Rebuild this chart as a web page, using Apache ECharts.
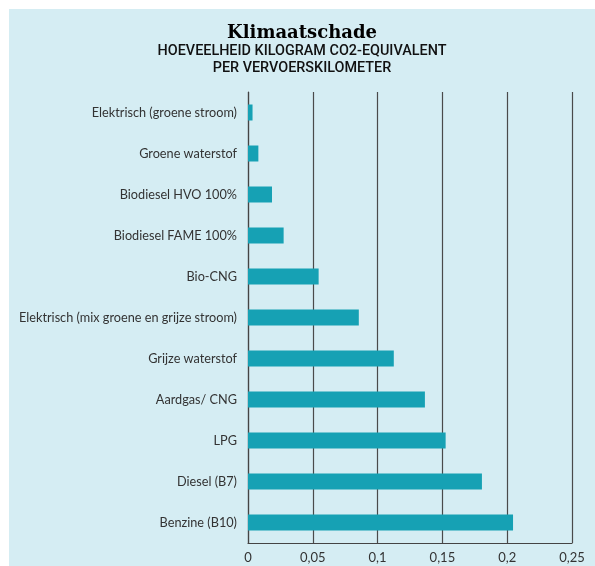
<!DOCTYPE html>
<html>
<head>
<meta charset="utf-8">
<script src="https://cdn.jsdelivr.net/npm/echarts@6/dist/echarts.min.js"></script>
<style>
  html, body { margin: 0; padding: 0; background: #fff; }
  #chart { position: absolute; left: 9px; top: 9px; width: 586px; height: 557px; }
</style>
</head>
<body>
<div id="chart"></div>
<script>
// brandstoffen, van boven naar beneden
var categories = [
    'Elektrisch (groene stroom)',
    'Groene waterstof',
    'Biodiesel HVO 100%',
    'Biodiesel FAME 100%',
    'Bio-CNG',
    'Elektrisch (mix groene en grijze stroom)',
    'Grijze waterstof',
    'Aardgas/ CNG',
    'LPG',
    'Diesel (B7)',
    'Benzine (B10)'
];
// kg CO2-equivalent per vervoerskilometer
var values = [0.0035, 0.008, 0.0185, 0.0275, 0.0545, 0.0855, 0.1125, 0.1365, 0.1525, 0.1805, 0.2045];
var ticks = [0, 0.05, 0.1, 0.15, 0.2, 0.25];

var chart = echarts.init(document.getElementById('chart'));
chart.setOption({
    backgroundColor: '#d5edf3',
    animation: false,
    title: {
        left: 'center',
        top: 10,
        itemGap: 1,
        text: 'Klimaatschade',
        subtext: 'HOEVEELHEID KILOGRAM CO2-EQUIVALENT\nPER VERVOERSKILOMETER',
        textStyle: {
            fontFamily: 'DejaVu Serif',
            fontWeight: 'bold',
            fontSize: 18,
            color: '#000'
        },
        subtextStyle: {
            fontFamily: 'Roboto',
            fontWeight: 500,
            fontSize: 14.4,
            lineHeight: 17,
            color: '#111'
        }
    },
    grid: {
        left: 239,
        top: 83,
        width: 324,
        height: 451
    },
    xAxis: {
        type: 'value',
        min: ticks[0],
        max: ticks[ticks.length - 1],
        interval: 0.05,
        axisLine: { show: true, lineStyle: { color: '#444', width: 1.2 } },
        axisTick: { show: false },
        splitLine: { show: true, lineStyle: { color: '#4a4a4a', width: 1.2 } },
        axisLabel: {
            color: '#333',
            fontFamily: 'Lato',
            fontSize: 13,
            margin: 8,
            formatter: function (v) { return String(+v.toFixed(2)).replace('.', ','); }
        }
    },
    yAxis: {
        type: 'category',
        inverse: true,
        data: categories,
        axisLine: { show: true, lineStyle: { color: '#444', width: 1.2 } },
        axisTick: { show: false },
        axisLabel: {
            color: '#333',
            fontFamily: 'Lato',
            fontSize: 12.7,
            margin: 11
        }
    },
    series: [{
        type: 'bar',
        data: values,
        barWidth: 16,
        itemStyle: { color: '#16a1b4' }
    }]
});
</script>
</body>
</html>
